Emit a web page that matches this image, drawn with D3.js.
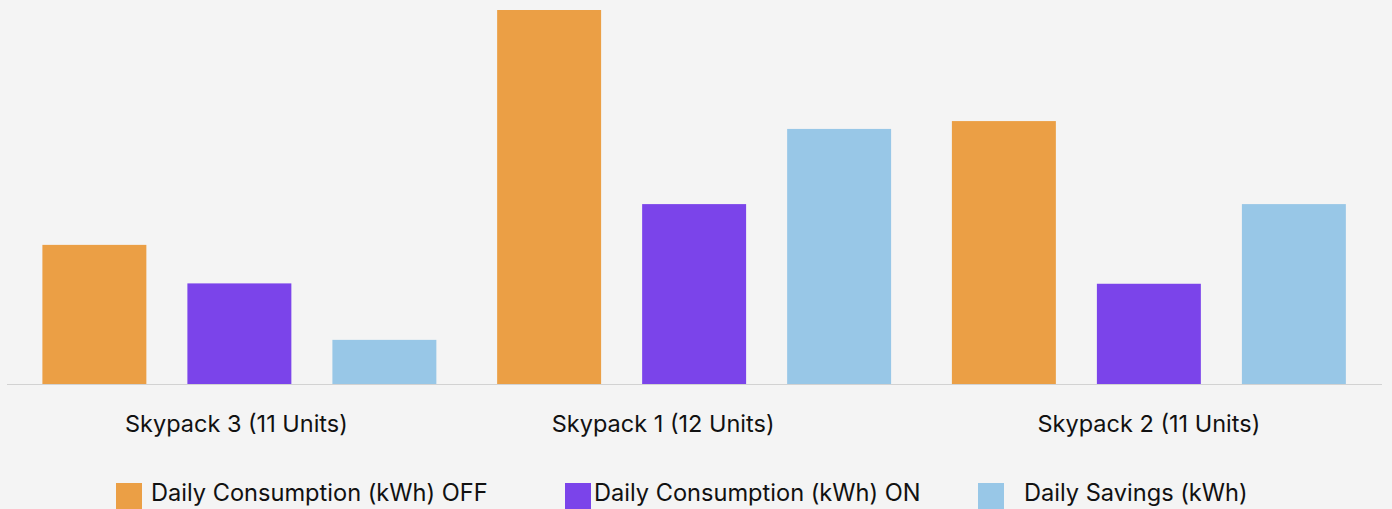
<!DOCTYPE html>
<html>
<head>
<meta charset="utf-8">
<script src="https://cdn.jsdelivr.net/npm/d3@7"></script>
<style>
  html, body { margin: 0; padding: 0; background: #f4f4f4; }
  svg { display: block; }
  text { font-family: Inter, "Noto Sans", sans-serif; fill: #111; }
</style>
</head>
<body>
<svg id="chart" width="1392" height="509"></svg>
<script>
const categories = ["Skypack 3 (11 Units)", "Skypack 1 (12 Units)", "Skypack 2 (11 Units)"];
const seriesNames = ["Daily Consumption (kWh) OFF", "Daily Consumption (kWh) ON", "Daily Savings (kWh)"];
const offValues = [37.2, 100.0, 70.3];
const onValues = [26.9, 48.1, 26.8];
const savingsValues = [11.8, 68.2, 48.1];
const colors = ["#eb9f45", "#7b44ea", "#98c7e7"];

const series = [offValues, onValues, savingsValues];
const data = categories.map((c, i) => ({ cat: c, vals: series.map((s, j) => ({ key: seriesNames[j], v: s[i] })) }));

const svg = d3.select("#chart");
const baseY = 384;

const x0 = d3.scaleBand().domain(categories).range([12, 1376.25]).padding(0);
const bw = x0.bandwidth();
const x1 = d3.scaleBand().domain(seriesNames).range([bw / 2 - 217.5, bw / 2 + 217.5]).paddingInner(0.283).paddingOuter(0.1415);
const y = d3.scaleLinear().domain([0, 100]).range([baseY, 10]);
const color = d3.scaleOrdinal().domain(seriesNames).range(colors);

const g = svg.append("g");
const groups = g.selectAll("g.grp").data(data).join("g")
  .attr("class", "grp")
  .attr("transform", d => `translate(${x0(d.cat)},0)`);
groups.selectAll("rect").data(d => d.vals).join("rect")
  .attr("x", d => x1(d.key))
  .attr("width", x1.bandwidth())
  .attr("y", d => y(d.v))
  .attr("height", d => y(0) - y(d.v))
  .attr("fill", d => color(d.key));

// baseline
svg.append("line")
  .attr("x1", 7).attr("x2", 1382)
  .attr("y1", y(0) + 0.5).attr("y2", y(0) + 0.5)
  .attr("stroke", "#d2d2d2").attr("stroke-width", 1);

// category axis labels
const labelShift = [-3, -31, 0];
const xAxis = d3.axisBottom(x0).tickSize(0).tickPadding(0);
const ax = svg.append("g").attr("transform", `translate(0,${baseY})`).call(xAxis);
ax.select(".domain").remove();
ax.selectAll("text")
  .attr("y", 47.5).attr("dy", 0)
  .attr("x", (d, i) => labelShift[i])
  .style("font-size", "23.5px")
  .style("font-family", "Inter, 'Noto Sans', sans-serif")
  .attr("fill", "#111");

// legend
const legendPos = [
  { sx: 116, tx: 151 },
  { sx: 565, tx: 594 },
  { sx: 978, tx: 1024 }
];
const leg = svg.append("g");
seriesNames.forEach((name, i) => {
  leg.append("rect")
    .attr("x", legendPos[i].sx).attr("y", 483)
    .attr("width", 26).attr("height", 26)
    .attr("fill", color(name));
  leg.append("text")
    .attr("x", legendPos[i].tx).attr("y", 500.5)
    .style("font-size", "23.6px")
    .text(name);
});
</script>
</body>
</html>
